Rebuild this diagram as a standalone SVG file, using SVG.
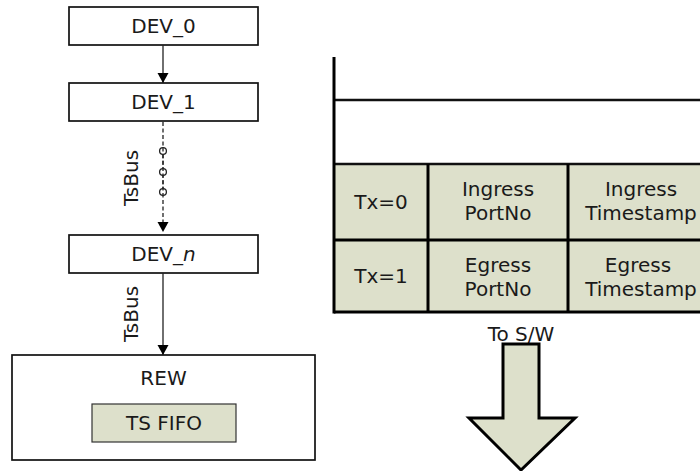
<svg xmlns="http://www.w3.org/2000/svg" width="700" height="471" viewBox="0 0 700 471">
<style>
.box{fill:#ffffff;stroke:#111;stroke-width:1.7}
.fill{fill:#dde0cb}
.t{font-family:"DejaVu Sans",Verdana,sans-serif;font-size:20px;fill:#1a1a1a;text-anchor:middle}
.conn{stroke:#222;stroke-width:1.3;fill:none}
.grid{stroke:#000;stroke-width:3;fill:none}
</style>
<defs>
<marker id="ah" markerWidth="10" markerHeight="14" refX="10" refY="7" orient="auto" markerUnits="userSpaceOnUse">
<path d="M0,1.5 L10,7 L0,12.5 Z" fill="#000"/>
</marker>
</defs>
<rect width="700" height="471" fill="#fff"/>

<g id="dev0">
<rect class="box" x="69" y="7" width="189" height="38"/>
<text class="t" x="163.5" y="33">DEV_0</text>
</g>
<g id="dev1">
<rect class="box" x="69" y="83" width="189" height="38"/>
<text class="t" x="163.5" y="109">DEV_1</text>
</g>
<g id="devn">
<rect class="box" x="69" y="235" width="189" height="38"/>
<text class="t" x="163.5" y="261">DEV_<tspan font-style="italic">n</tspan></text>
</g>
<g id="rew">
<rect class="box" x="12" y="355" width="303" height="105"/>
<text class="t" x="163.5" y="385">REW</text>
<rect x="92" y="404" width="144" height="38" fill="#dde0cb" stroke="#333" stroke-width="1.2"/>
<text class="t" x="164" y="430">TS FIFO</text>
</g>

<g id="connectors">
<line class="conn" x1="163" y1="45" x2="163" y2="83" marker-end="url(#ah)"/>
<line class="conn" x1="163" y1="122" x2="163" y2="232" stroke-width="1.5" stroke-dasharray="4,2.5" marker-end="url(#ah)"/>
<circle cx="163" cy="151" r="3.4" fill="#fff" stroke="#222" stroke-width="1.3"/>
<circle cx="163" cy="172" r="3.4" fill="#fff" stroke="#222" stroke-width="1.3"/>
<circle cx="163" cy="192" r="3.4" fill="#fff" stroke="#222" stroke-width="1.3"/>
<line x1="163" y1="147.6" x2="163" y2="195.4" stroke="#222" stroke-width="1.3" stroke-dasharray="4,2.5"/>
<text class="t" x="138" y="178" transform="rotate(-90 138 178)">TsBus</text>
<line class="conn" x1="163" y1="273" x2="163" y2="355" marker-end="url(#ah)"/>
<text class="t" x="138" y="314" transform="rotate(-90 138 314)">TsBus</text>
</g>

<g id="table">
<rect class="fill" x="334" y="164" width="366" height="148"/>
<line x1="334" y1="100" x2="700" y2="100" stroke="#111" stroke-width="2.5"/>
<line x1="334" y1="164" x2="700" y2="164" stroke="#111" stroke-width="2.5"/>
<line class="grid" x1="334" y1="240" x2="700" y2="240"/>
<line class="grid" x1="334" y1="312" x2="700" y2="312"/>
<line class="grid" x1="334" y1="57" x2="334" y2="313.5"/>
<line class="grid" x1="428" y1="164" x2="428" y2="312"/>
<line class="grid" x1="568" y1="164" x2="568" y2="312"/>
<text class="t" x="381" y="209">Tx=0</text>
<text class="t" x="498" y="196">Ingress</text>
<text class="t" x="498" y="220">PortNo</text>
<text class="t" x="641" y="196">Ingress</text>
<text class="t" x="641" y="220">Timestamp</text>
<text class="t" x="381" y="283">Tx=1</text>
<text class="t" x="498" y="272">Egress</text>
<text class="t" x="498" y="296">PortNo</text>
<text class="t" x="638" y="272">Egress</text>
<text class="t" x="641" y="296">Timestamp</text>
</g>

<g id="tosw">
<text class="t" x="521" y="341">To S/W</text>
<path d="M503,344 L539,344 L539,418 L575,418 L521,470 L469,418 L503,418 Z" fill="#dde0cb" stroke="#000" stroke-width="3" stroke-linejoin="miter"/>
</g>
</svg>
